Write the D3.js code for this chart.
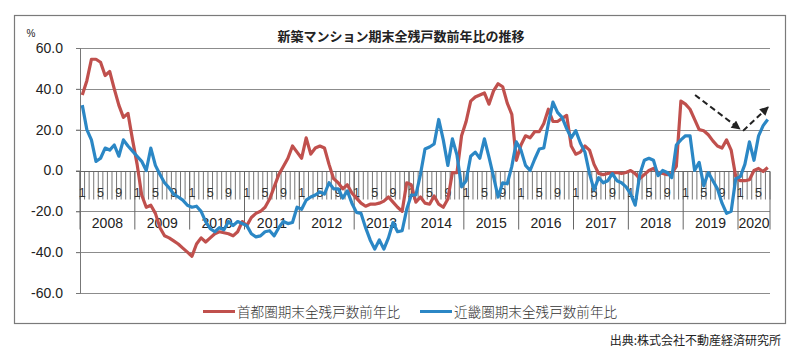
<!DOCTYPE html>
<html>
<head>
<meta charset="utf-8">
<script src="https://cdn.jsdelivr.net/npm/d3@7"></script>
<style>
  body { margin: 0; background: #fff; }
  svg { display: block; font-family: 'Liberation Sans', Arial, sans-serif; }
  .jp { font-family: 'Noto Sans CJK JP', sans-serif; }
</style>
</head>
<body>
<svg id="chart"></svg>
<script>
const title = '新築マンション期末全残戸数前年比の推移';
const sourceText = '出典:株式会社不動産経済研究所';
const unitLabel = '%';

const years = ['2008', '2009', '2010', '2011', '2012', '2013', '2014',
  '2015', '2016', '2017', '2018', '2019', '2020'];
const lastYearMonths = 7; // 2020 runs Jan..Jul
const monthLabels = [1, 5, 9];
const yTicks = [-60, -40, -20, 0, 20, 40, 60];

const seriesNames = ['首都圏期末全残戸数前年比', '近畿圏期末全残戸数前年比'];

// 首都圏 (one row per year)
const shutoken = [
  37, 44, 54.5, 54.5, 53, 46.5, 48.5, 40, 32, 26, 28, 15,
  3, -12, -18, -17, -21, -28, -32, -33, -34.5, -36, -38, -40,
  -42, -36, -33, -35, -33, -31, -30, -30.5, -31, -32, -30, -25,
  -27, -23, -21, -20, -18, -14, -8, -2, 2, 6, 12, 9,
  6, 16, 8, 11, 12, 11, 3, -4, -6, -9, -7, -11,
  -13.5, -16, -17.5, -16.5, -16.5, -16, -15, -13, -15.5, -18, -20, -6,
  -7, -15.5, -13, -16, -16.5, -12.5, -16.5, -18, -14, -1, -1, 17,
  24, 34, 36, 37, 38, 32.5, 39, 42.5, 41, 33, 27.5, 5,
  12.5, 17, 16, 19, 19, 23, 30, 24, 24, 25.5, 27, 12,
  8, 9, 12, 10, 3, -1.5, -2, -1.5, -1, -1, -1.5, -1,
  0, -1.5, -4, -2, 0, 1, -1, -1.5, -2, -1.5, 2, 34,
  32.5, 30, 25, 20, 19.5, 17.5, 14.5, 12, 11, 15, 10, -3,
  -5, -5, -4.5, 0, 1, -0.5, 1.5,
];

// 近畿圏
const kinki = [
  32, 20, 15, 4.5, 6, 11, 10, 12.5, 7, 15, 12, 9.5,
  7, 4.5, 0, 11, 2.5, -2, -6, -8.5, -11.5, -13, -14.5, -17,
  -18, -17.5, -20, -25, -28.5, -30, -28, -29, -25, -27, -25, -26,
  -27, -31, -32.5, -32, -30, -29.5, -32, -28, -25, -26, -25.5, -18,
  -19, -14.5, -13, -12, -10.5, -11.5, -6, -9, -9, -13.5, -10, -16,
  -20.5, -21, -28, -34, -38.5, -34, -38.5, -33, -25.5, -30, -29.5, -19,
  -12, -12, -2, 10.5, 11.5, 13, 25, 15, 2.5, 15.5, 7.5, -8,
  -5, 7, 9, 6, 15.5, 6.5, -3, -13, -6, -6.5, 2, 14,
  10, 2.5, 0, 5.5, 10.5, 11, 23, 33.5, 28.5, 26, 20.5, 16,
  19.5, 13.5, 9, -1.5, -9.5, -3.5, -6, -5, -1.5, -5, -6, -8,
  -11.5, -17, -2, 5, 6, 5, -2.5, 0, -1, -3.5, 12.5, 15,
  17, 17, 0, 4, -7.5, -1, -5, -9, -16, -21, -20, -4,
  -3, 3, 14, 5, 17, 22, 25,
];

// dashed trend arrows, in (month index, value) units
const arrows = [
  [[134.1, 37], [143.9, 20.3]],
  [[144.6, 19.4], [150.1, 31.1]],
];

const colors = ['#c0504d', '#2b87c5'];

const W = 800;
const H = 352;
const plot = { left: 80, right: 770, top: 48, bottom: 293 };

// one category per month
const categories = [];
years.forEach((yr, yi) => {
  const n = yi === years.length - 1 ? lastYearMonths : 12;
  for (let m = 1; m <= n; m++) categories.push({ year: yr, month: m });
});
const idx = categories.map((_, i) => i);

const svg = d3.select('#chart').attr('width', W).attr('height', H);

// outer frame
svg.append('rect')
  .attr('x', 14.5).attr('y', 15.5)
  .attr('width', 771).attr('height', 308)
  .attr('fill', '#fff')
  .attr('stroke', '#7a7a7a')
  .attr('stroke-width', 1.2);

const x = d3.scaleBand().domain(idx).range([plot.left, plot.right]).padding(0);
const bw = x.bandwidth();
const xc = (i) => plot.left + (i + 0.5) * bw;

const y = d3.scaleLinear().domain([-60, 60]).range([plot.bottom, plot.top]);

// gridlines
svg.append('g')
  .selectAll('line')
  .data(yTicks.filter((d) => d !== 0))
  .join('line')
  .attr('x1', plot.left - 4)
  .attr('x2', plot.right)
  .attr('y1', (d) => Math.round(y(d)) + 0.5)
  .attr('y2', (d) => Math.round(y(d)) + 0.5)
  .attr('stroke', '#8c8c8c')
  .attr('stroke-width', 1);

// y axis
const yAxis = svg.append('g')
  .attr('transform', `translate(${plot.left},0)`)
  .call(d3.axisLeft(y).tickValues(yTicks).tickSize(4).tickPadding(13)
    .tickFormat((d) => d.toFixed(1)));
yAxis.select('.domain').attr('stroke', '#777');
yAxis.selectAll('.tick line').attr('stroke', '#777');
yAxis.selectAll('text')
  .attr('font-size', 14)
  .attr('fill', '#222')
  .attr('font-family', 'Liberation Sans, Arial, sans-serif');

svg.append('text')
  .attr('x', 31).attr('y', 37)
  .attr('text-anchor', 'middle')
  .attr('font-size', 10)
  .attr('fill', '#222')
  .text(unitLabel);

// category axis at 0
const y0 = Math.round(y(0)) + 0.5;
const xAxisG = svg.append('g');

xAxisG.selectAll('line.mtick')
  .data(d3.range(categories.length + 1))
  .join('line')
  .attr('class', 'mtick')
  .attr('x1', (i) => plot.left + i * bw)
  .attr('x2', (i) => plot.left + i * bw)
  .attr('y1', y0)
  .attr('y2', y0 + 28)
  .attr('stroke', '#666')
  .attr('stroke-width', 0.9);

// year separators
const yearStarts = idx.filter((i) => categories[i].month === 1);
xAxisG.selectAll('line.ytick')
  .data([...yearStarts, categories.length])
  .join('line')
  .attr('class', 'ytick')
  .attr('x1', (i) => plot.left + i * bw)
  .attr('x2', (i) => plot.left + i * bw)
  .attr('y1', y0)
  .attr('y2', y0 + 58)
  .attr('stroke', '#666')
  .attr('stroke-width', 1);

xAxisG.append('line')
  .attr('x1', plot.left - 4).attr('x2', plot.right)
  .attr('y1', y0).attr('y2', y0)
  .attr('stroke', '#666')
  .attr('stroke-width', 1.2);

// month labels
const mAxis = svg.append('g')
  .attr('transform', `translate(0,${y0})`)
  .call(d3.axisBottom(x)
    .tickValues(idx.filter((i) => monthLabels.includes(categories[i].month)))
    .tickSize(0)
    .tickFormat((i) => categories[i].month));
mAxis.select('.domain').remove();
mAxis.selectAll('text')
  .attr('y', 25).attr('dy', 0)
  .attr('font-size', 12.5)
  .attr('fill', '#333')
  .attr('font-family', 'Liberation Sans, Arial, sans-serif');

// year labels
svg.append('g')
  .selectAll('text')
  .data(years)
  .join('text')
  .attr('x', (yr) => {
    const members = idx.filter((i) => categories[i].year === yr);
    return (x(members[0]) + x(members[members.length - 1]) + bw) / 2;
  })
  .attr('y', y0 + 56)
  .attr('text-anchor', 'middle')
  .attr('font-size', 14)
  .attr('fill', '#222')
  .text((yr) => yr);

// lines
const line = d3.line()
  .x((d, i) => xc(i))
  .y((d) => y(d));

[shutoken, kinki].forEach((vals, k) => {
  svg.append('path')
    .datum(vals)
    .attr('fill', 'none')
    .attr('stroke', colors[k])
    .attr('stroke-width', 3.2)
    .attr('stroke-linejoin', 'round')
    .attr('d', line);
});

// arrows
svg.append('defs').append('marker')
  .attr('id', 'head')
  .attr('viewBox', '0 0 10 10')
  .attr('refX', 9).attr('refY', 5)
  .attr('markerWidth', 10).attr('markerHeight', 9)
  .attr('markerUnits', 'userSpaceOnUse')
  .attr('orient', 'auto')
  .append('path')
  .attr('d', 'M0,0L10,5L0,10Z')
  .attr('fill', '#222');

svg.append('g')
  .selectAll('line')
  .data(arrows)
  .join('line')
  .attr('x1', (d) => xc(d[0][0]))
  .attr('y1', (d) => y(d[0][1]))
  .attr('x2', (d) => xc(d[1][0]))
  .attr('y2', (d) => y(d[1][1]))
  .attr('stroke', '#222')
  .attr('stroke-width', 2)
  .attr('stroke-dasharray', '6,3.5')
  .attr('marker-end', 'url(#head)');

// title
svg.append('text')
  .attr('class', 'jp')
  .attr('x', 401).attr('y', 40.5)
  .attr('text-anchor', 'middle')
  .attr('font-size', 13)
  .attr('font-weight', 700)
  .attr('fill', '#222')
  .text(title);

// legend
const legend = svg.append('g').attr('class', 'jp');
const legendX = [203, 420];
seriesNames.forEach((name, k) => {
  legend.append('line')
    .attr('x1', legendX[k]).attr('x2', legendX[k] + 32)
    .attr('y1', 311.5).attr('y2', 311.5)
    .attr('stroke', colors[k])
    .attr('stroke-width', 3);
  legend.append('text')
    .attr('x', legendX[k] + 34)
    .attr('y', 316.5)
    .attr('font-size', 13.6)
    .attr('font-weight', 300)
    .attr('fill', '#333')
    .text(name);
});

// source
svg.append('text')
  .attr('class', 'jp')
  .attr('x', 781).attr('y', 344.5)
  .attr('text-anchor', 'end')
  .attr('font-size', 12)
  .attr('fill', '#222')
  .text(sourceText);
</script>
</body>
</html>
